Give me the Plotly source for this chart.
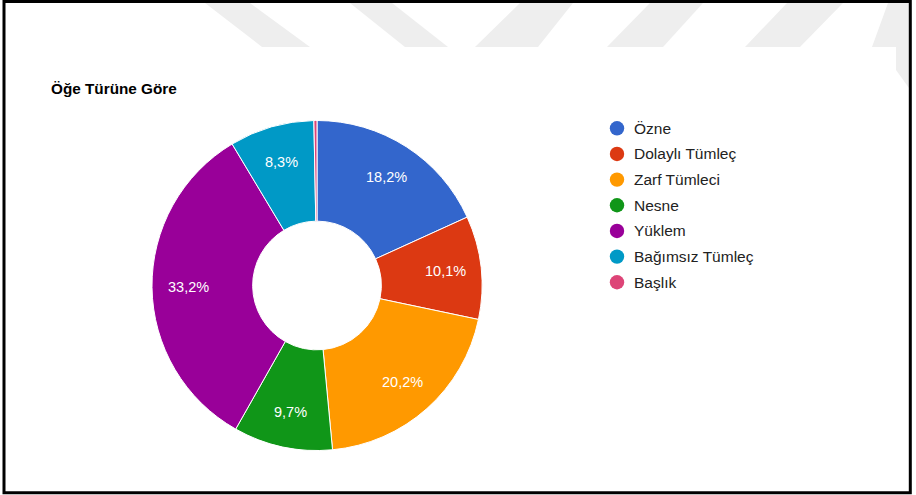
import math
import plotly.graph_objects as go

# ---- data -------------------------------------------------------------
categories = ["Özne", "Dolaylı Tümleç", "Zarf Tümleci", "Nesne",
              "Yüklem", "Bağımsız Tümleç", "Başlık"]
shares = [18.2, 10.1, 20.2, 9.7, 33.2, 8.3, 0.3]
colors = ["#3366cc", "#dc3912", "#ff9900", "#109618",
          "#990099", "#0099c6", "#dd4477"]
title_text = "Öğe Türüne Göre"

# ---- canvas helpers (pixel -> paper) ----------------------------------
W, H = 916, 495
FONT = "Liberation Sans, Arial, sans-serif"


def px(x):
    return x / W


def py(y):
    return 1 - y / H


def path(points):
    return "M " + " L ".join(f"{px(x):.5f},{py(y):.5f}" for x, y in points) + " Z"


# donut geometry
CX, CY, R = 317, 285.5, 165
HOLE = 0.39
LABEL_R = 129
MIN_LABEL_SHARE = 1.0

fig = go.Figure()
fig.add_trace(go.Pie(
    labels=categories,
    values=shares,
    sort=False,
    direction="clockwise",
    rotation=0,
    hole=HOLE,
    marker=dict(colors=colors, line=dict(color="white", width=1)),
    textinfo="none",
    hoverinfo="label+percent",
    showlegend=False,
    domain=dict(x=[px(CX - R), px(CX + R)], y=[py(CY + R), py(CY - R)]),
))

shapes = []
annotations = []

# faint diagonal band pattern across the header strip
band_color = "#eeeeee"
bands = [
    [(205, 3), (250, 3), (310, 47), (262, 47)],
    [(350, 3), (392, 3), (448, 47), (405, 47)],
    [(520, 3), (573, 3), (538, 47), (475, 47)],
    [(650, 3), (703, 3), (663, 47), (607, 47)],
    [(787, 3), (843, 3), (800, 47), (745, 47)],
    [(888, 3), (909, 3), (909, 88), (896, 70), (896, 47), (872, 47)],
]
for b in bands:
    shapes.append(dict(type="path", path=path(b), xref="paper", yref="paper",
                       fillcolor=band_color, line=dict(width=0), layer="below"))

# outer frame
shapes.append(dict(type="rect", xref="paper", yref="paper",
                   x0=px(4), x1=px(910.3), y0=py(1.5), y1=py(492.7),
                   line=dict(color="black", width=3), fillcolor="rgba(0,0,0,0)",
                   layer="above"))

# slice value labels, placed at each slice's mid angle
total = sum(shares)
cum = 0.0
for v in shares:
    mid = (cum + v / 2) / total * 2 * math.pi
    cum += v
    if v < MIN_LABEL_SHARE:
        continue
    lx = CX + LABEL_R * math.sin(mid)
    ly = CY - LABEL_R * math.cos(mid)
    annotations.append(dict(
        x=px(lx), y=py(ly), xref="paper", yref="paper",
        text=f"{v:.1f}".replace(".", ",") + "%",
        showarrow=False, xanchor="center", yanchor="middle",
        font=dict(family=FONT, size=14.5, color="white"),
    ))

# legend: coloured dots with category names
LEG_X, LEG_Y0, LEG_DY, DOT_R = 617, 128.3, 25.66, 7.2
for i, (name, col) in enumerate(zip(categories, colors)):
    yc = LEG_Y0 + i * LEG_DY
    shapes.append(dict(type="circle", xref="paper", yref="paper",
                       x0=px(LEG_X - DOT_R), x1=px(LEG_X + DOT_R),
                       y0=py(yc + DOT_R), y1=py(yc - DOT_R),
                       fillcolor=col, line=dict(width=0)))
    annotations.append(dict(
        x=px(632), y=py(yc), xref="paper", yref="paper",
        text=name, showarrow=False, xanchor="left", yanchor="middle",
        font=dict(family=FONT, size=15.5, color="#222222"),
    ))

# chart title
annotations.append(dict(
    x=px(49), y=py(88), xref="paper", yref="paper",
    text=f"<b>{title_text}</b>", showarrow=False,
    xanchor="left", yanchor="middle",
    font=dict(family=FONT, size=15.3, color="#000000"),
))

fig.update_layout(
    width=W, height=H,
    margin=dict(l=0, r=0, t=0, b=0),
    paper_bgcolor="white",
    plot_bgcolor="white",
    shapes=shapes,
    annotations=annotations,
    showlegend=False,
)

fig.write_html("out.html")
